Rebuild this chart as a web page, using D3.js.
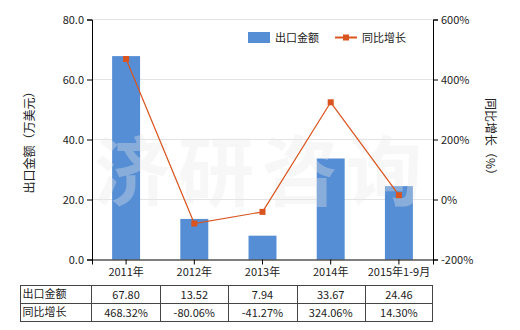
<!DOCTYPE html>
<html>
<head>
<meta charset="utf-8">
<script src="https://cdn.jsdelivr.net/npm/d3@7"></script>
<style>
body { margin: 0; background: #fff; }
text { font-family: "Noto Sans CJK SC", "DejaVu Sans", sans-serif; }
</style>
</head>
<body>
<svg id="chart" width="520" height="330"></svg>
<script>
// export value + yoy growth, bar + line combo with a data table underneath
var categories = ['2011年', '2012年', '2013年', '2014年', '2015年1-9月'];
var exportValues = [67.80, 13.52, 7.94, 33.67, 24.46];
var growthValues = [468.32, -80.06, -41.27, 324.06, 14.30];
var leftTicks = [0, 20, 40, 60, 80];
var rightTicks = [-200, 0, 200, 400, 600];

var svg = d3.select('#chart');
var plotLeft = 92, plotRight = 433, plotTop = 19.5, plotBottom = 259.5;
var barColor = '#558ed5', lineColor = '#d9541e';

var x = d3.scaleBand().domain(categories).range([plotLeft, plotRight]).paddingInner(0.59).paddingOuter(0.295);
var yL = d3.scaleLinear().domain([0, 80]).range([plotBottom, plotTop]);
var yR = d3.scaleLinear().domain([-200, 600]).range([plotBottom, plotTop]);
var cx = function(d) { return x(d) + x.bandwidth() / 2; };

// grid
svg.append('g').selectAll('line')
    .data(leftTicks.slice(1))
    .enter().append('line')
        .attr('x1', plotLeft).attr('x2', plotRight)
        .attr('y1', function(d) { return yL(d); })
        .attr('y2', function(d) { return yL(d); })
        .attr('stroke', '#e3e3e3');

// bars
svg.append('g').selectAll('rect')
    .data(exportValues)
    .enter().append('rect')
        .attr('x', function(d, i) { return x(categories[i]); })
        .attr('width', x.bandwidth())
        .attr('y', function(d) { return yL(d); })
        .attr('height', function(d) { return yL(0) - yL(d); })
        .attr('fill', barColor);

// watermark
svg.append('text')
    .attr('x', 262).attr('y', 200)
    .attr('text-anchor', 'middle')
    .attr('font-size', 76).attr('font-weight', 'bold')
    .attr('letter-spacing', 8)
    .attr('fill', '#e8e8e8').attr('fill-opacity', 0.35)
    .text('济研咨询');

// axes
var axL = svg.append('g').attr('transform', 'translate(' + plotLeft + ',0)')
    .call(d3.axisLeft(yL).tickValues(leftTicks).tickSize(5).tickFormat(d3.format('.1f')));
var axR = svg.append('g').attr('transform', 'translate(' + plotRight + ',0)')
    .call(d3.axisRight(yR).tickValues(rightTicks).tickSize(5).tickFormat(function(d) { return d + '%'; }));
var axB = svg.append('g').attr('transform', 'translate(0,' + plotBottom + ')')
    .call(d3.axisBottom(x).tickSize(5));
[axL, axR, axB].forEach(function(a) {
    a.select('.domain').attr('stroke', '#000');
    a.selectAll('.tick line').attr('stroke', '#000');
    a.selectAll('.tick text').attr('font-size', 11).attr('fill', '#222');
});
axB.selectAll('.tick text').attr('dy', '0.75em');

// line
var line = d3.line()
    .x(function(d, i) { return cx(categories[i]); })
    .y(function(d) { return yR(d); });
svg.append('path')
    .datum(growthValues)
    .attr('d', line)
    .attr('fill', 'none')
    .attr('stroke', lineColor)
    .attr('stroke-width', 1.2);
svg.append('g').selectAll('rect')
    .data(growthValues)
    .enter().append('rect')
        .attr('x', function(d, i) { return cx(categories[i]) - 3; })
        .attr('y', function(d) { return yR(d) - 3; })
        .attr('width', 6).attr('height', 6)
        .attr('fill', lineColor);

// axis titles
svg.append('text')
    .attr('transform', 'translate(30,' + (plotTop + plotBottom) / 2 + ') rotate(-90)')
    .attr('text-anchor', 'middle').attr('dy', '0.35em')
    .attr('font-size', 12).attr('fill', '#222')
    .text('出口金额（万美元）');
svg.append('text')
    .attr('transform', 'translate(490,' + (plotTop + plotBottom) / 2 + ') rotate(90)')
    .attr('text-anchor', 'middle').attr('dy', '0.35em')
    .attr('font-size', 12).attr('fill', '#222')
    .text('同比增长（%）');

// legend
var lg = svg.append('g');
lg.append('rect').attr('x', 248).attr('y', 32).attr('width', 22).attr('height', 11).attr('fill', barColor);
lg.append('text').attr('x', 275).attr('y', 38).attr('dy', '0.35em').attr('font-size', 11).attr('fill', '#222').text('出口金额');
lg.append('line').attr('x1', 335).attr('x2', 357).attr('y1', 37.5).attr('y2', 37.5).attr('stroke', lineColor).attr('stroke-width', 2);
lg.append('rect').attr('x', 343).attr('y', 34.5).attr('width', 6).attr('height', 6).attr('fill', lineColor);
lg.append('text').attr('x', 362).attr('y', 38).attr('dy', '0.35em').attr('font-size', 11).attr('fill', '#222').text('同比增长');

// data table
var rowLabels = ['出口金额', '同比增长'];
var rows = [
    exportValues.map(function(d) { return d.toFixed(2); }),
    growthValues.map(function(d) { return d.toFixed(2) + '%'; })
];
var tLeft = 20.5, tTop = 285.5, rowH = 18, labelW = 70;
var colEdges = [tLeft, tLeft + labelW].concat(categories.map(function(c) { return x(c) + x.bandwidth() / 2 + x.step() / 2; }));
colEdges[colEdges.length - 1] = plotRight - 0.5;
var tb = svg.append('g');
tb.append('rect')
    .attr('x', tLeft).attr('y', tTop)
    .attr('width', colEdges[colEdges.length - 1] - tLeft).attr('height', rowH * 2)
    .attr('fill', 'none').attr('stroke', '#444');
tb.append('line').attr('x1', tLeft).attr('x2', colEdges[colEdges.length - 1])
    .attr('y1', tTop + rowH).attr('y2', tTop + rowH).attr('stroke', '#444');
colEdges.slice(1, -1).forEach(function(e) {
    tb.append('line').attr('x1', Math.round(e) + 0.5).attr('x2', Math.round(e) + 0.5)
        .attr('y1', tTop).attr('y2', tTop + rowH * 2).attr('stroke', '#444');
});
rowLabels.forEach(function(lab, r) {
    tb.append('text').attr('x', tLeft + 2).attr('y', tTop + rowH * r + rowH / 2)
        .attr('dy', '0.35em').attr('font-size', 11).attr('fill', '#222').text(lab);
    rows[r].forEach(function(v, i) {
        tb.append('text').attr('x', cx(categories[i])).attr('y', tTop + rowH * r + rowH / 2 + 1)
            .attr('text-anchor', 'middle').attr('dy', '0.35em')
            .attr('font-size', 11).attr('fill', '#222').text(v);
    });
});
</script>
</body>
</html>
